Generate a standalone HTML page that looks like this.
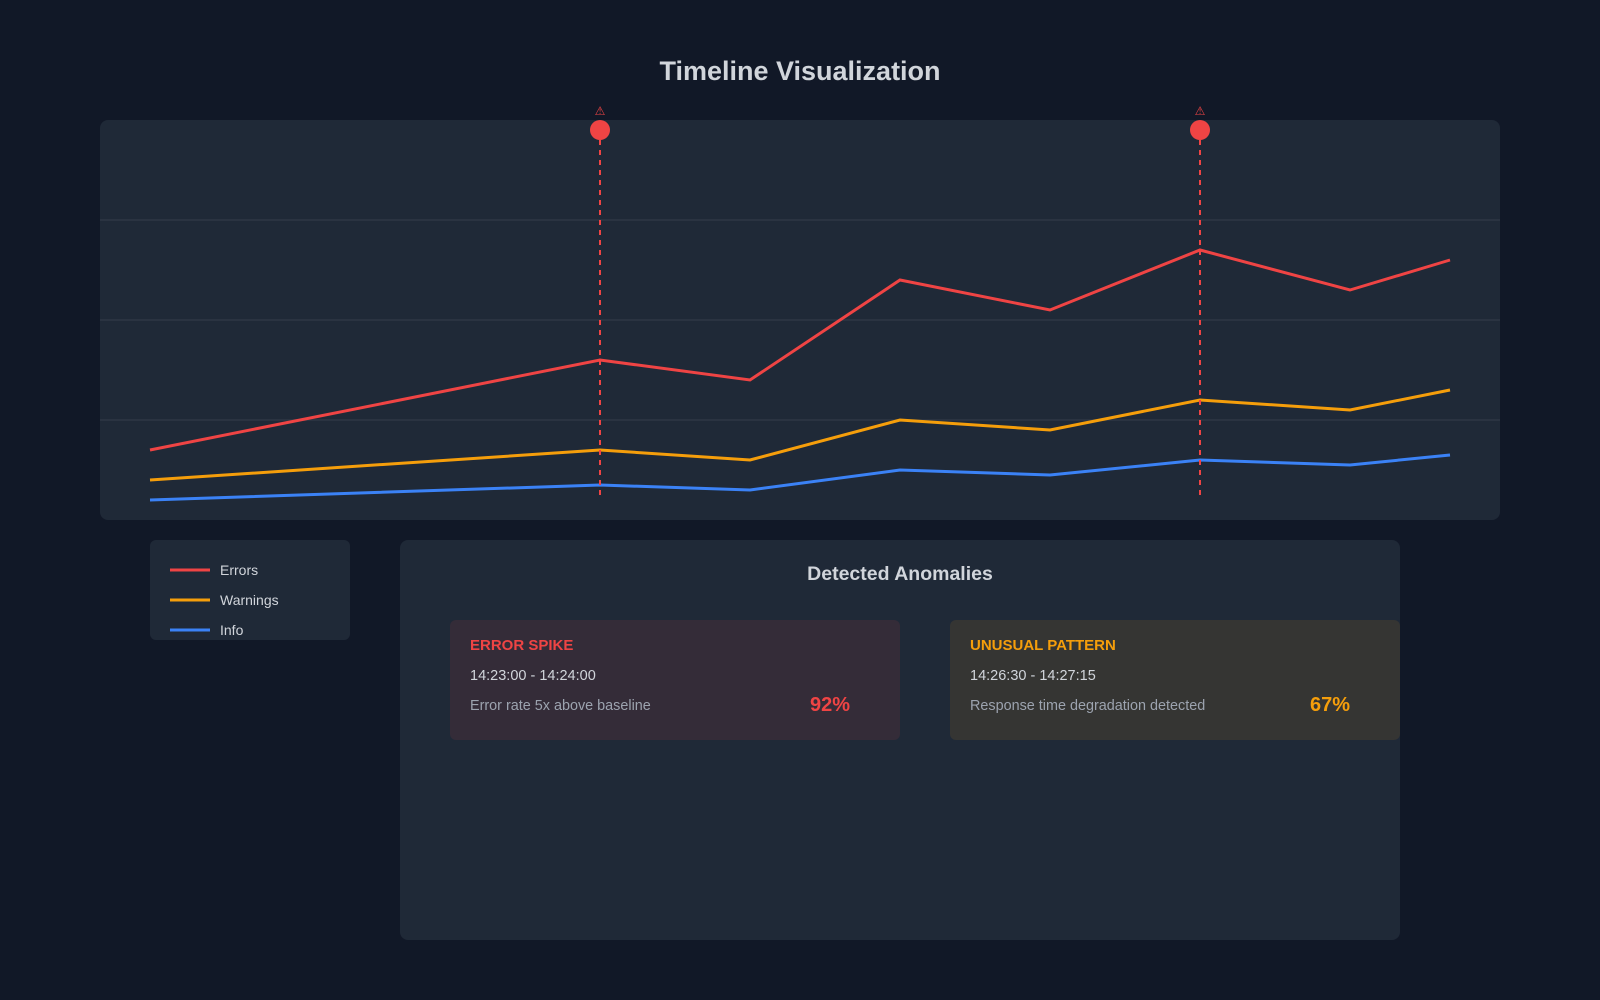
<!DOCTYPE html>
<html>
<head>
<meta charset="utf-8">
<style>
  html, body { margin: 0; padding: 0; background: #111827; }
  body { width: 1600px; height: 1000px; overflow: hidden; }
  svg { display: block; font-family: "Liberation Sans", "DejaVu Sans", sans-serif; }
</style>
</head>
<body>
<svg width="1600" height="1000" viewBox="0 0 1600 1000" xmlns="http://www.w3.org/2000/svg">
  <rect x="0" y="0" width="1600" height="1000" fill="#111827"/>

  <!-- Title -->
  <text x="800" y="80" text-anchor="middle" font-size="27" font-weight="bold" fill="#d1d5db">Timeline Visualization</text>

  <!-- Chart panel -->
  <rect x="100" y="120" width="1400" height="400" rx="8" ry="8" fill="#1f2937"/>

  <!-- Grid lines -->
  <g stroke="#2a3341" stroke-width="2">
    <line x1="100" y1="220" x2="1500" y2="220"/>
    <line x1="100" y1="320" x2="1500" y2="320"/>
    <line x1="100" y1="420" x2="1500" y2="420"/>
  </g>

  <!-- Series -->
  <g fill="none" stroke-width="3" stroke-linejoin="miter">
    <polyline stroke="#ef4444" points="150,450 600,360 750,380 900,280 1050,310 1200,250 1350,290 1450,260"/>
    <polyline stroke="#f59e0b" points="150,480 600,450 750,460 900,420 1050,430 1200,400 1350,410 1450,390"/>
    <polyline stroke="#3b82f6" points="150,500 600,485 750,490 900,470 1050,475 1200,460 1350,465 1450,455"/>
  </g>

  <!-- Anomaly markers -->
  <g stroke="#ef4444" stroke-width="2" stroke-dasharray="5,5">
    <line x1="600" y1="130" x2="600" y2="495"/>
    <line x1="1200" y1="130" x2="1200" y2="495"/>
  </g>
  <circle cx="600" cy="130" r="10" fill="#ef4444"/>
  <circle cx="1200" cy="130" r="10" fill="#ef4444"/>
  <text x="600" y="115" text-anchor="middle" font-size="12" fill="#ef4444">⚠</text>
  <text x="1200" y="115" text-anchor="middle" font-size="12" fill="#ef4444">⚠</text>

  <!-- Legend -->
  <rect x="150" y="540" width="200" height="100" rx="6" ry="6" fill="#1f2937"/>
  <g stroke-width="3">
    <line x1="170" y1="570" x2="210" y2="570" stroke="#ef4444"/>
    <line x1="170" y1="600" x2="210" y2="600" stroke="#f59e0b"/>
    <line x1="170" y1="630" x2="210" y2="630" stroke="#3b82f6"/>
  </g>
  <g font-size="14" fill="#d1d5db">
    <text x="220" y="575">Errors</text>
    <text x="220" y="605">Warnings</text>
    <text x="220" y="635">Info</text>
  </g>

  <!-- Anomalies panel -->
  <rect x="400" y="540" width="1000" height="400" rx="8" ry="8" fill="#1f2937"/>
  <text x="900" y="580" text-anchor="middle" font-size="19.5" font-weight="bold" fill="#d1d5db">Detected Anomalies</text>

  <!-- Card 1 -->
  <rect x="450" y="620" width="450" height="120" rx="6" ry="6" fill="#342c38"/>
  <text x="470" y="650" font-size="15" font-weight="bold" fill="#ef4444">ERROR SPIKE</text>
  <text x="470" y="680" font-size="14.5" fill="#d1d5db">14:23:00 - 14:24:00</text>
  <text x="470" y="710" font-size="14.4" fill="#9ca3af">Error rate 5x above baseline</text>
  <text x="850" y="711" text-anchor="end" font-size="20" font-weight="bold" fill="#ef4444">92%</text>

  <!-- Card 2 -->
  <rect x="950" y="620" width="450" height="120" rx="6" ry="6" fill="#353533"/>
  <text x="970" y="650" font-size="15" font-weight="bold" fill="#f59e0b">UNUSUAL PATTERN</text>
  <text x="970" y="680" font-size="14.5" fill="#d1d5db">14:26:30 - 14:27:15</text>
  <text x="970" y="710" font-size="14.4" fill="#9ca3af">Response time degradation detected</text>
  <text x="1350" y="711" text-anchor="end" font-size="20" font-weight="bold" fill="#f59e0b">67%</text>
</svg>
</body>
</html>
